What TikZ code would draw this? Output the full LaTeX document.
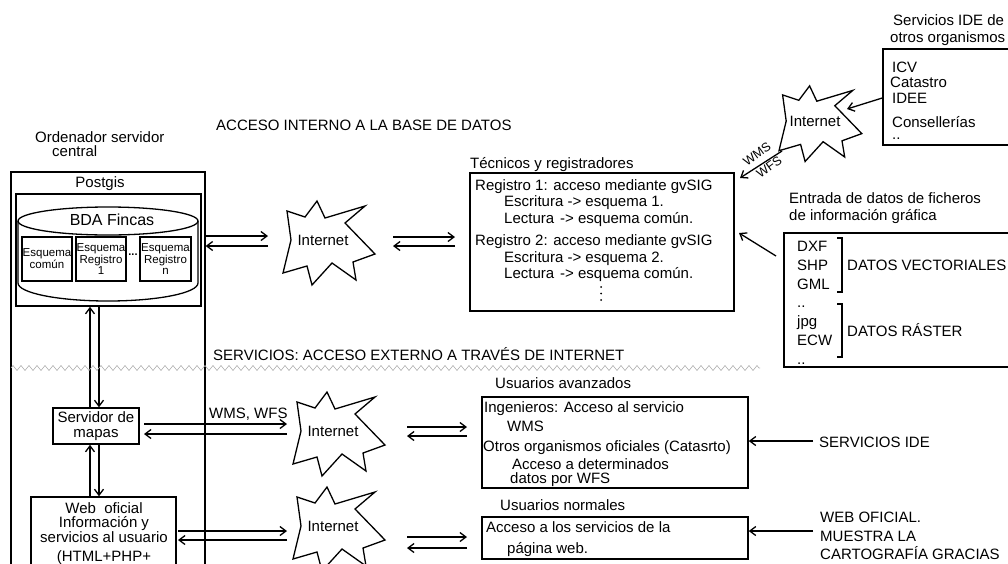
\documentclass[tikz,border=0pt]{standalone}
\usepackage{fontspec}
\setmainfont{Liberation Sans}
\usetikzlibrary{arrows.meta,decorations.pathmorphing,calc}
\begin{document}
\begin{tikzpicture}[x=1pt,y=-1pt,
  txt/.style={inner sep=0pt, font=\fontsize{15}{17}\selectfont, anchor=base west},
  ctr/.style={inner sep=0pt, font=\fontsize{15}{17}\selectfont, anchor=base},
  box/.style={draw, line width=1.5pt, inner sep=0pt},
  thinbox/.style={draw, line width=1.2pt, inner sep=0pt},
  small/.style={font=\fontsize{11.5}{10.5}\selectfont, align=center},
  arr/.style={line width=1.3pt, -{Straight Barb[length=6pt,width=9pt,line width=1.3pt]}},
  starline/.style={line width=1.3pt, line join=miter},
  inet/.pic={\draw[starline] (-36,-29) -- (-18,-23) -- (-6,-39) -- (2,-22) -- (42,-34) -- (22,-17) -- (52,14) -- (30,22) -- (33,40) -- (9,23) -- (-11,45) -- (-16,26) -- (-40,33) -- (-32,0) -- cycle;}
]
\clip (0,0) rectangle (1008,563);
\fill[white] (0,0) rectangle (1008,563);

% ---------- left: central server ----------
\node[txt] (ord1) at (35,142) {Ordenador servidor};
\node[txt] (ord2) at (52,156) {central};
\node[thinbox, minimum width=194pt, minimum height=428pt] (big) at (108,386) {};
\node[ctr] (postgis) at (100,187) {Postgis};
\node[box, minimum width=185pt, minimum height=112pt] (inner) at (108.5,250) {};
% cylinder
\draw[line width=1.3pt] (108,221) ellipse [x radius=90, y radius=14];
\draw[line width=1.3pt] (18,221) -- (18,283) arc[start angle=180, end angle=360, x radius=90, y radius=-18] -- (198,221);
\node[inner sep=0pt, font=\fontsize{16}{18}\selectfont, anchor=base] (bda) at (112,225) {BDA Fincas};
\node[box, minimum width=50pt, minimum height=44pt, small] (esq1) at (47,259) {Esquema\\común};
\node[box, minimum width=50pt, minimum height=44pt, small] (esq2) at (101,259) {Esquema\\Registro\\1};
\node[inner sep=0pt, font=\fontsize{11}{11}\selectfont\bfseries] (esqdots) at (133,255) {...};
\node[box, minimum width=51pt, minimum height=44pt, small] (esq3) at (165.5,259) {Esquema\\Registro\\n};

\node[box, minimum width=86pt, minimum height=36pt, align=center, font=\fontsize{15}{15}\selectfont] (serv) at (96,426) {Servidor de\\mapas};
\node[box, minimum width=145pt, minimum height=103pt] (web) at (103.5,548.5) {};
\node[ctr] (web1) at (104,513) {Web\ \ oficial};
\node[ctr] (web2) at (104,527) {Información y};
\node[ctr] (web3) at (104,542) {servicios al usuario};
\node[ctr] (web4) at (104,561) {(HTML+PHP+};

\draw[arr] (serv.north -| 90,0) -- (inner.south -| 90,0);
\draw[arr] (inner.south -| 99,0) -- (serv.north -| 99,0);
\draw[arr] (web.north -| 90,0) -- (serv.south -| 90,0);
\draw[arr] (serv.south -| 99,0) -- (web.north -| 99,0);

% ---------- section titles ----------
\node[txt] (titint) at (216,130) {ACCESO INTERNO A LA BASE DE DATOS};
\node[txt] (titext) at (213,360) {SERVICIOS: ACCESO EXTERNO A TRAVÉS DE INTERNET};
\draw[gray!60, line width=0.6pt, decorate, decoration={zigzag, segment length=8pt, amplitude=2.5pt}] (11,368) -- (760,368);

% ---------- internet clouds ----------
\pic at (323,240) {inet};
\node[inner sep=0pt, font=\fontsize{15}{17}\selectfont] (i1) at (323,240) {Internet};
\pic at (333,431) {inet};
\node[inner sep=0pt, font=\fontsize{15}{17}\selectfont] (i2) at (333,431) {Internet};
\pic at (333,526) {inet};
\node[inner sep=0pt, font=\fontsize{15}{17}\selectfont] (i4) at (333,526) {Internet};
\pic[scale=0.9] at (815,121) {inet};
\node[inner sep=0pt, font=\fontsize{15}{17}\selectfont] (i3) at (815,121) {Internet};

% internal access arrows
\draw[arr] (big.east |- 0,236) -- (268,236);
\draw[arr] (268,246) -- (big.east |- 0,246);
\draw[arr] (393,237) -- (455,237);
\draw[arr] (455,246) -- (393,246);

% ---------- técnicos ----------
\node[txt] (teclbl) at (470,168) {Técnicos y registradores};
\node[box, minimum width=264pt, minimum height=138pt] (tec) at (602,242) {};
\node[txt] (t1) at (475,190) {Registro 1: acceso mediante gvSIG};
\node[txt] (t2) at (504,206) {Escritura -> esquema 1.};
\node[txt] (t3) at (504,223) {Lectura};
\node[txt] (t3b) at (560,223) {-> esquema común.};
\node[txt] (t4) at (475,245) {Registro 2: acceso mediante gvSIG};
\node[txt] (t5) at (504,262) {Escritura -> esquema 2.};
\node[txt] (t6) at (504,278) {Lectura};
\node[txt] (t6b) at (560,278) {-> esquema común.};
\fill (601,287) circle (1pt) (601,293.5) circle (1pt) (601,300) circle (1pt);

% ---------- IDE de otros organismos ----------
\node[txt] (idel1) at (893,25) {Servicios IDE de};
\node[txt] (idel2) at (890,42) {otros organismos};
\node[box, minimum width=129pt, minimum height=96pt] (ide) at (947.5,97) {};
\node[txt] (ide1) at (892,72) {ICV};
\node[txt] (ide2) at (890,87) {Catastro};
\node[txt] (ide3) at (892,103) {IDEE};
\node[txt] (ide4) at (892,127) {Consellerías};
\node[txt] (ide5) at (892,139) {..};
\draw[arr] (ide.west |- 0,98) -- (847,109);
\coordinate (wmsstart) at (782,151);
\coordinate (wmsend) at (740,178);
\draw[arr] (wmsstart) -- (wmsend);
\node[inner sep=0pt, rotate=36, font=\fontsize{12.5}{12.5}\selectfont] (wmslbl) at (757,154) {WMS};
\node[inner sep=0pt, rotate=36, font=\fontsize{12.5}{12.5}\selectfont] (wfslbl) at (769,167) {WFS};

% ---------- entrada de datos ----------
\node[txt] (entl1) at (789,203) {Entrada de datos de ficheros};
\node[txt] (entl2) at (789,220) {de información gráfica};
\node[box, minimum width=228pt, minimum height=134pt] (ent) at (898,300) {};
\draw[arr] (776,256) -- (739,233);
\node[txt] (e1) at (797,251) {DXF};
\node[txt] (e2) at (797,270) {SHP};
\node[txt] (e3) at (797,289) {GML};
\node[txt] (e4) at (797,307) {..};
\node[txt] (e5) at (797,326) {jpg};
\node[txt] (e6) at (797,345) {ECW};
\node[txt] (e7) at (797,364) {..};
\draw[line width=1.2pt] (837,238) -- (842,238) -- (842,292) -- (837,292);
\draw[line width=1.2pt] (837,304) -- (842,304) -- (842,357) -- (837,357);
\node[txt] (vect) at (847,270) {DATOS VECTORIALES};
\node[txt] (rast) at (847,336) {DATOS RÁSTER};

% ---------- external services ----------
\node[txt] (wmswfs) at (209,418) {WMS, WFS};
\draw[arr] (144,424) -- (287,424);
\draw[arr] (287,434) -- (144,434);
\draw[arr] (407,427) -- (467,427);
\draw[arr] (467,436) -- (407,436);

\node[txt] (avzlbl) at (495,388) {Usuarios avanzados};
\node[box, minimum width=266pt, minimum height=91pt] (avz) at (615,442.5) {};
\node[txt] (a1) at (484,412) {Ingenieros: Acceso al servicio};
\node[txt] (a2) at (507,431) {WMS};
\node[txt] (a3) at (483,451) {Otros organismos oficiales (Catasrto)};
\node[txt] (a4) at (512,469) {Acceso a determinados};
\node[txt] (a5) at (510,483) {datos por WFS};

\node[txt] (servide) at (819,447) {SERVICIOS IDE};
\draw[arr] (813,441) -- (avz.east |- 0,441);

\draw[arr] (178,531) -- (287,531);
\draw[arr] (287,540) -- (178,540);
\draw[arr] (407,537) -- (467,537);
\draw[arr] (467,548) -- (407,548);

\node[txt] (norlbl) at (500,510) {Usuarios normales};
\node[box, minimum width=266pt, minimum height=42pt] (nor) at (615,538) {};
\node[txt] (n1) at (486,532) {Acceso a los servicios de la};
\node[txt] (n2) at (507,553) {página web.};

\node[txt] (wo1) at (820,522) {WEB OFICIAL.};
\node[txt] (wo2) at (820,541) {MUESTRA LA};
\node[txt] (wo3) at (820,559) {CARTOGRAFÍA GRACIAS};
\draw[arr] (813,531) -- (nor.east |- 0,531);
\end{tikzpicture}
\end{document}
